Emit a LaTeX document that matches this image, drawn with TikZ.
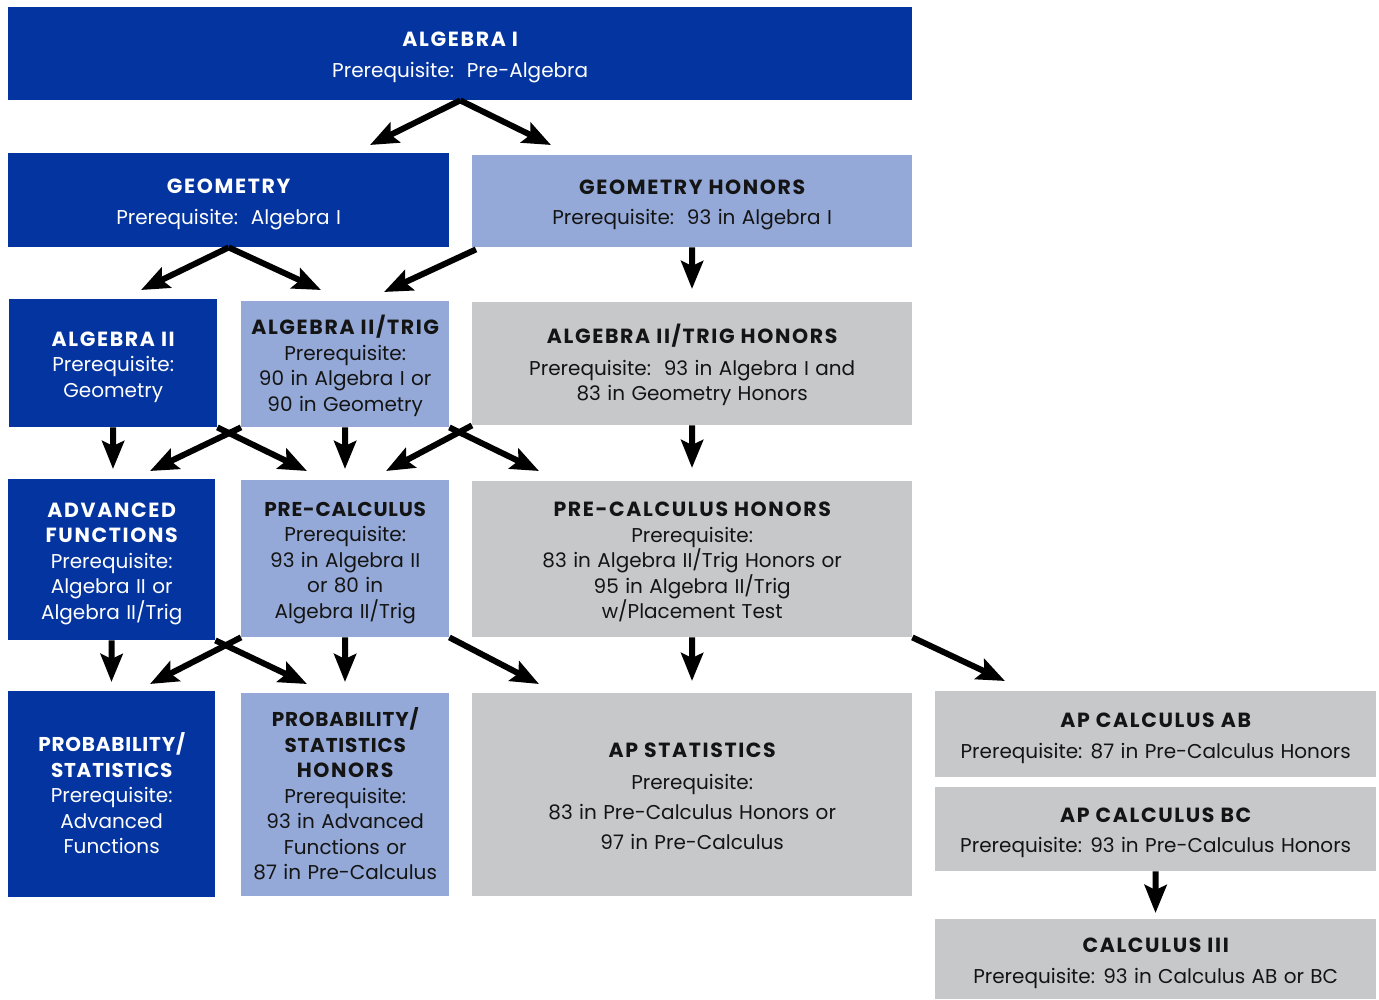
\documentclass[tikz,border=0pt]{standalone}
\usepackage{fontspec}
\setmainfont[WordSpace=1.2]{Poppins}
\newfontfamily\hdrfont[LetterSpace=8]{Poppins}
\newfontfamily\hdrnfont[LetterSpace=4]{Poppins}
\newcommand\hdr{\hdrfont\bfseries\fontsize{20.5}{25.5}\selectfont}
\newcommand\hdrn{\hdrnfont\bfseries}
\newcommand\tp{\rule{0pt}{22.4pt}}
\newcommand\bt{\rule[-5pt]{0pt}{5pt}}
\usetikzlibrary{arrows.meta,calc}
\definecolor{dblue}{RGB}{3,52,160}
\definecolor{lblue}{RGB}{148,169,216}
\definecolor{lgray}{RGB}{199,200,202}
\definecolor{ink}{RGB}{20,20,20}
\tikzset{
  box/.style={rectangle, inner sep=0pt, anchor=north west, align=center,
    font=\fontsize{20}{25.5}\selectfont},
  dbox/.style={box, fill=dblue, text=white},
  lbox/.style={box, fill=lblue, text=ink},
  gbox/.style={box, fill=lgray, text=ink},
  arr/.style={draw=black, line width=6pt, -{Stealth[length=28pt,width=22pt,inset=5pt]}}
}
\begin{document}
\begin{tikzpicture}[x=1pt,y=-1pt]
\useasboundingbox (0,0) rectangle (1379,999);
% row 1
\node[dbox, minimum width=904pt, minimum height=93pt] (alg1) at (8,7)
  {\tp{\hdr ALGEBRA I}\\[5.5pt] Prerequisite:\ \ Pre-Algebra\bt};
% row 2
\node[dbox, minimum width=441pt, minimum height=94pt] (geo) at (8,153)
  {\tp{\hdr GEOMETRY}\\[5.5pt] Prerequisite:\ \ Algebra I\bt};
\node[lbox, minimum width=440pt, minimum height=92pt] (geoh) at (472,155)
  {\tp{\hdr GEOMETRY HONORS}\\[5pt] Prerequisite:\ \ 93 in Algebra I\bt};
% row 3
\node[dbox, minimum width=208pt, minimum height=128pt] (alg2) at (9,299)
  {\tp{\hdr ALGEBRA II}\\ Prerequisite:\\ Geometry\bt};
\node[lbox, minimum width=208pt, minimum height=126pt] (a2t) at (241,301)
  {\tp{\hdr ALGEBRA II/TRIG}\\ Prerequisite:\\ 90 in Algebra I or\\ 90 in Geometry\bt};
\node[gbox, minimum width=440pt, minimum height=123pt] (a2th) at (472,302)
  {\tp{\hdr ALGEBRA II/TRIG HONORS}\\[6pt] Prerequisite:\ \ 93 in Algebra I and\\ 83 in Geometry Honors\bt};
% row 4
\node[dbox, minimum width=207pt, minimum height=161pt] (af) at (8,479)
  {\tp{\hdr ADVANCED}\\ {\hdr FUNCTIONS}\\ Prerequisite:\\ Algebra II or\\ Algebra II/Trig\bt};
\node[lbox, minimum width=208pt, minimum height=157pt] (pc) at (241,480)
  {\tp{\hdrn PRE-CALCULUS}\\ Prerequisite:\\ 93 in Algebra II\\ or 80 in\\ Algebra II/Trig\bt};
\node[gbox, minimum width=440pt, minimum height=156pt] (pch) at (472,481)
  {\tp{\hdr PRE-CALCULUS HONORS}\\ Prerequisite:\\ 83 in Algebra II/Trig Honors or\\ 95 in Algebra II/Trig\\ w/Placement Test\bt};
% row 5
\node[dbox, minimum width=207pt, minimum height=206pt] (ps) at (8,691)
  {\tp{\hdrn PROBABILITY/}\\ {\hdrn STATISTICS}\\ Prerequisite:\\ Advanced\\ Functions\bt};
\node[lbox, minimum width=208pt, minimum height=203pt] (psh) at (241,693)
  {\tp{\hdrn PROBABILITY/}\\ {\hdrn STATISTICS}\\ {\hdr HONORS}\\ Prerequisite:\\ 93 in Advanced\\ Functions or\\ 87 in Pre-Calculus\bt};
\node[gbox, minimum width=440pt, minimum height=203pt] (aps) at (472,693)
  {\tp{\hdr AP STATISTICS}\\[6pt] Prerequisite:\\[4.5pt] 83 in Pre-Calculus Honors or\\[4.5pt] 97 in Pre-Calculus\bt};
% right column
\node[gbox, minimum width=441pt, minimum height=86pt] (ab) at (935,691)
  {\tp{\hdr AP CALCULUS AB}\\[5.5pt] Prerequisite: 87 in Pre-Calculus Honors\bt};
\node[gbox, minimum width=441pt, minimum height=84pt] (bc) at (935,787)
  {\tp{\hdr AP CALCULUS BC}\\[4.5pt] Prerequisite: 93 in Pre-Calculus Honors\bt};
\node[gbox, minimum width=441pt, minimum height=80pt] (c3) at (935,919)
  {\tp{\hdr CALCULUS III}\\[5.5pt] Prerequisite: 93 in Calculus AB or BC\bt};
% arrow tips
\coordinate (t1) at (370,145);
\coordinate (t2) at (551,145);
\coordinate (t3) at (141,290);
\coordinate (t4) at (321,290);
\coordinate (t5) at (384,292);
\coordinate (t6) at (692,289);
\coordinate (t7) at (113,469);
\coordinate (t8) at (150,471);
\coordinate (t9) at (307,471);
\coordinate (t10) at (345,469);
\coordinate (t11) at (386,471);
\coordinate (t12) at (539,471);
\coordinate (t13) at (692,468);
\coordinate (t14) at (111.5,682);
\coordinate (t15) at (150,684);
\coordinate (t16) at (307,684);
\coordinate (t17) at (345,682);
\coordinate (t18) at (539,684);
\coordinate (t19) at (692,681);
\coordinate (t20) at (1005,681);
\coordinate (t21) at (1155.5,913);
% arrows
\draw[arr] (alg1.south) -- (t1);
\draw[arr] (alg1.south) -- (t2);
\draw[arr] (geo.south) -- (t3);
\draw[arr] (geo.south) -- (t4);
\draw[arr] ($(geoh.south west)+(4,2)$) -- (t5);
\draw[arr] (geoh.south) -- (t6);
\draw[arr] (alg2.south) -- (t7);
\draw[arr] (a2t.south west) -- (t8);
\draw[arr] (alg2.south east) -- (t9);
\draw[arr] (a2t.south) -- (t10);
\draw[arr] (a2th.south west) -- (t11);
\draw[arr] (a2t.south east) -- (t12);
\draw[arr] (a2th.south) -- (t13);
\draw[arr] (af.south) -- (t14);
\draw[arr] (pc.south west) -- (t15);
\draw[arr] (af.south east) -- (t16);
\draw[arr] (pc.south) -- (t17);
\draw[arr] (pc.south east) -- (t18);
\draw[arr] (pch.south) -- (t19);
\draw[arr] (pch.south east) -- (t20);
\draw[arr] (bc.south) -- (t21);
\end{tikzpicture}
\end{document}
